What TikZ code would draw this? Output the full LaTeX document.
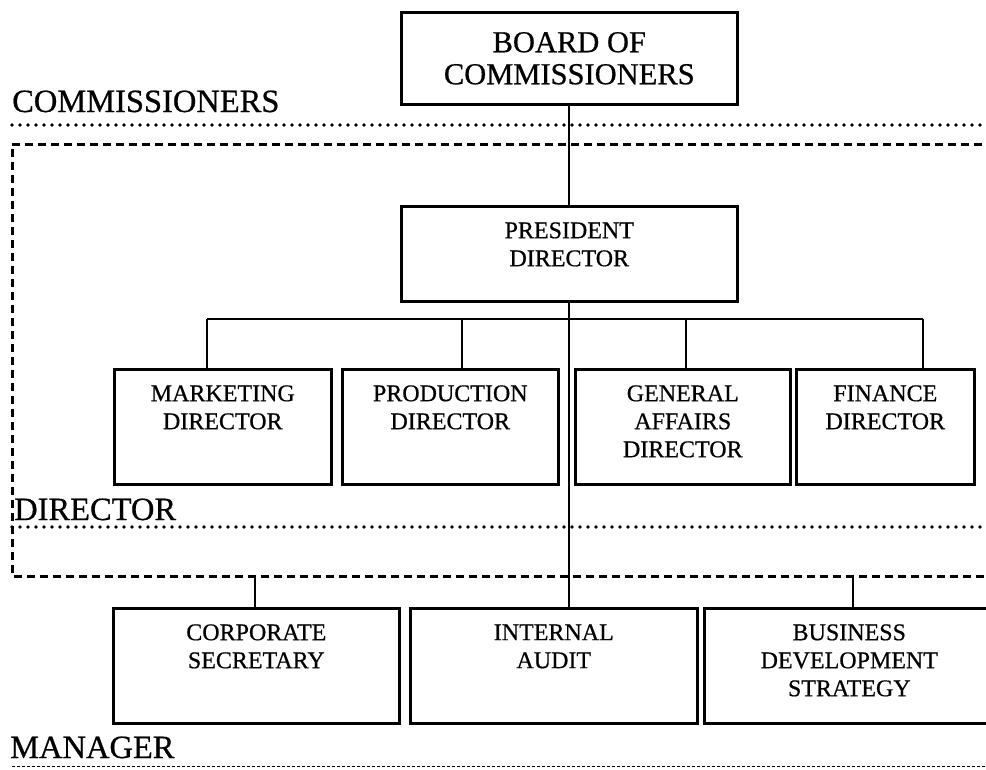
\documentclass[tikz,border=0pt]{standalone}
\usepackage{fontspec}
\setmainfont{Liberation Serif}[FakeBold=0.6]
\usetikzlibrary{positioning,calc}

% box text sits near the top edge of its frame
\newcommand{\boxtext}[3]{\parbox[c][#2][t]{#1}{\centering\vspace*{16pt}#3}}

\tikzset{
  unit/.style={draw, line width=2.6pt, inner sep=0pt, anchor=north west,
    font=\fontsize{24}{28}\selectfont},
  rank/.style={anchor=base west, inner sep=0pt, font=\fontsize{32.5}{34}\selectfont},
  wire/.style={line width=2.2pt},
  tier/.style={line width=3.8pt, line cap=round, dash pattern=on 0pt off 8pt},
  band/.style={line width=3pt, dash pattern=on 8pt off 5pt},
}

\begin{document}
\begin{tikzpicture}[x=1pt, y=-1pt]
      \useasboundingbox (0,0) rectangle (986,769);
      \clip (0,0) rectangle (986,769);

      \node[unit, minimum width=336pt, minimum height=92pt, align=center,
            font=\fontsize{30.5}{32}\selectfont] (board) at (400,11) {BOARD OF\\COMMISSIONERS};
      \node[unit] (pres) at (400,205) {\boxtext{336pt}{95pt}{PRESIDENT\\DIRECTOR}};

      % directors
      \node[unit] (mkt)  at (113,368) {\boxtext{217pt}{115pt}{MARKETING\\DIRECTOR}};
      \node[unit] (prod) at (341,368) {\boxtext{216pt}{115pt}{PRODUCTION\\DIRECTOR}};
      \node[unit] (gen)  at (574,368) {\boxtext{215pt}{115pt}{GENERAL\\AFFAIRS\\DIRECTOR}};
      \node[unit] (fin)  at (795,368) {\boxtext{178pt}{115pt}{FINANCE\\DIRECTOR}};

      % managers
      \node[unit] (corp)  at (112,607) {\boxtext{286pt}{115pt}{CORPORATE\\SECRETARY}};
      \node[unit] (audit) at (409,607) {\boxtext{287pt}{115pt}{INTERNAL\\AUDIT}};
      \node[unit] (bds)   at (703,607) {\boxtext{290pt}{115pt}{BUSINESS\\DEVELOPMENT\\STRATEGY}};

      % level names and their dividers
      \node[rank] (lcom) at (12,112) {COMMISSIONERS};
      \node[rank] (ldir) at (14,520) {DIRECTOR};
      \node[rank] (lman) at (10,758) {MANAGER};

      \draw[tier] (12,125) -- (986,125);
      \draw[tier] (12,527) -- (986,527);
      \draw[line width=1pt, dash pattern=on 3pt off 2pt] (12,766) -- (986,766);
      \draw[band] (995,144) -| (12,576) -- (995,576);

      \draw[wire] (board) -- (pres);
      \draw[wire] (pres.south) -- (pres.south |- audit.north);

      \coordinate (busL) at (207,319);
      \coordinate (busR) at (923,319);
      \draw[wire] (busL) -- (busR);
      \foreach \x/\n in {207/mkt, 462/prod, 686/gen, 923/fin}
        \draw[wire] (\x,319) -- (\x,319 |- \n.north);

      \coordinate (cs) at (255,576);
      \coordinate (bd) at (853,576);
      \draw[wire] (cs) -- (cs |- corp.north);
      \draw[wire] (bd) -- (bd |- bds.north);

    \end{tikzpicture}
\end{document}
